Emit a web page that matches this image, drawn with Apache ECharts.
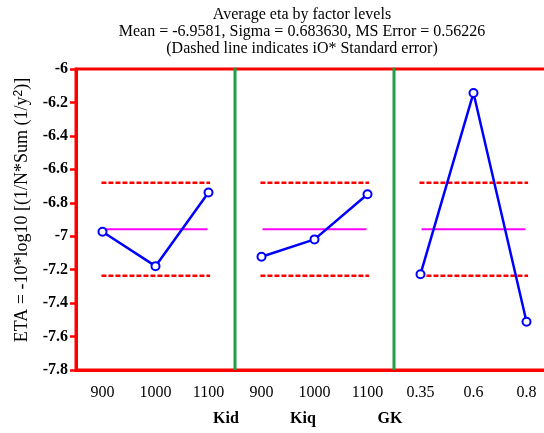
<!DOCTYPE html>
<html>
<head>
<meta charset="utf-8">
<script src="https://cdn.jsdelivr.net/npm/echarts@6/dist/echarts.min.js"></script>
<style>html,body{margin:0;padding:0;background:#fff}#c{width:544px;height:433px}</style>
</head>
<body>
<div id="c"></div>
<script>
// ---- data ----
const factorNames = ['Kid', 'Kiq', 'GK'];
const kidLevels = ['900', '1000', '1100'];
const kiqLevels = ['900', '1000', '1100'];
const gkLevels = ['0.35', '0.6', '0.8'];
const kidEta = [-6.973, -7.179, -6.739];
const kiqEta = [-7.123, -7.019, -6.749];
const gkEta = [-7.227, -6.143, -7.511];
const grandMean = -6.9581;
const upperLimit = -6.680;
const lowerLimit = -7.236;
const yTicks = [-7.8, -7.6, -7.4, -7.2, -7, -6.8, -6.6, -6.4, -6.2, -6];

const levelLabels = kidLevels.concat(kiqLevels, gkLevels);
const groups = [kidEta, kiqEta, gkEta];

const FONT = '"Liberation Serif", "Times New Roman", serif';
const series = [];
// separators
[2.5, 5.5].forEach(x => {
  series.push({
    type: 'line', xAxisIndex: 1, symbol: 'none', silent: true, z: 1,
    lineStyle: { color: '#1f9e48', width: 3 },
    data: [[x, yTicks[0]], [x, yTicks[yTicks.length - 1] + 0.01]]
  });
});
groups.forEach((vals, g) => {
  const s = g * 3;
  [upperLimit, lowerLimit].forEach(v => {
    series.push({
      type: 'line', xAxisIndex: 1, symbol: 'none', silent: true, z: 2,
      lineStyle: { color: '#ff0000', width: 2.5, type: [5, 2] },
      data: [[s - 0.02, v], [s + 2.03, v]]
    });
  });
  series.push({
    type: 'line', xAxisIndex: 1, symbol: 'none', silent: true, z: 3,
    lineStyle: { color: '#ff00ff', width: 2 },
    data: [[s + 0.02, grandMean], [s + 1.98, grandMean]]
  });
  series.push({
    type: 'line', xAxisIndex: 1, z: 4,
    symbol: 'circle', symbolSize: 8,
    itemStyle: { color: '#ffffff', borderColor: '#0000ff', borderWidth: 2 },
    lineStyle: { color: '#0000ff', width: 2.5 },
    data: vals.map((v, i) => [s + i, v])
  });
});

const chart = echarts.init(document.getElementById('c'), null, { renderer: 'canvas' });
chart.setOption({
  animation: false,
  backgroundColor: '#ffffff',
  title: {
    text: 'Average eta by factor levels\nMean = -6.9581, Sigma = 0.683630, MS Error = 0.56226\n(Dashed line indicates iO* Standard error)',
    left: 297, top: 1, textAlign: 'center',
    textStyle: { fontFamily: FONT, fontSize: 16, fontWeight: 'normal', color: '#000', lineHeight: 17 }
  },
  grid: {
    left: 76, top: 69, right: -9, bottom: 63, containLabel: false, outerBoundsMode: 'none',
    show: true, borderColor: '#ff0000', borderWidth: 3, backgroundColor: 'transparent'
  },
  xAxis: [{
    type: 'category', data: levelLabels, boundaryGap: true, position: 'bottom',
    axisLine: { lineStyle: { color: '#ff0000', width: 3 } },
    axisTick: { alignWithLabel: true, length: 6, lineStyle: { color: '#ff0000', width: 2.5 } },
    axisLabel: { margin: 15, fontFamily: FONT, fontSize: 16, fontWeight: 'normal', color: '#000', interval: 0 },
    splitLine: { show: false }
  }, {
    type: 'value', min: -0.5, max: 8.5, show: false
  }],
  yAxis: {
    type: 'value', min: -7.8, max: -6, interval: 0.2,
    axisLine: { show: true, onZero: false, lineStyle: { color: '#ff0000', width: 3 } },
    axisTick: { show: true, length: 6, lineStyle: { color: '#ff0000', width: 2.5 } },
    axisLabel: {
      margin: 8, fontFamily: FONT, fontSize: 16, fontWeight: 'bold', color: '#000',
      formatter: v => String(Math.round(v * 10) / 10)
    },
    splitLine: { show: false }
  },
  graphic: [
    {
      type: 'text', x: 22, y: 210, rotation: Math.PI / 2,
      style: {
        text: 'ETA = -10*log10 [(1/N*Sum (1/y{s|2})]',
        font: '18px ' + FONT, fill: '#000', align: 'center', verticalAlign: 'middle',
        rich: { s: { fontSize: 12, verticalAlign: 'top', padding: [0, 0, 6, 0] } }
      }
    },
    { type: 'text', x: 226, y: 419, style: { text: factorNames[0], font: 'bold 16px ' + FONT, fill: '#000', align: 'center', verticalAlign: 'middle' } },
    { type: 'text', x: 303, y: 419, style: { text: factorNames[1], font: 'bold 16px ' + FONT, fill: '#000', align: 'center', verticalAlign: 'middle' } },
    { type: 'text', x: 390, y: 419, style: { text: factorNames[2], font: 'bold 16px ' + FONT, fill: '#000', align: 'center', verticalAlign: 'middle' } }
  ],
  series: series
});
</script>
</body>
</html>
